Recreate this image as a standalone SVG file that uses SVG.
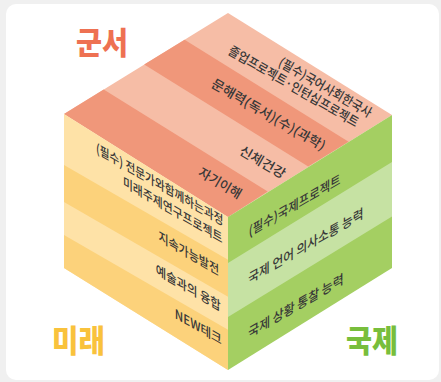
<svg xmlns="http://www.w3.org/2000/svg" width="441" height="382" viewBox="0 0 441 382">
<style>
.t{font-family:"Noto Sans CJK KR","Noto Sans",sans-serif;font-size:13px;font-weight:500;fill:#383838}
.r{font-size:13.5px}
.e{text-anchor:end}
.big{font-family:"Noto Sans CJK KR","Noto Sans",sans-serif;font-size:31px;font-weight:900}
</style>
<rect width="441" height="382" fill="#f0f0f0"/>
<rect x="6" y="4" width="433" height="376" rx="10" fill="#ffffff"/>

<g id="top-face">
  <polygon points="228,13 392,115 228,217 64,114" fill="#F6BDA6"/>
  <polygon points="184.6,39.7 348.6,141.7 308.2,166.6 144.2,64.6" fill="#F0977A"/>
  <polygon points="103.7,89.6 267.7,191.6 228,217 64,114" fill="#F0977A"/>
  <g transform="translate(228,13) rotate(30)">
    <text class="t e" x="174" y="20.5" textLength="105" lengthAdjust="spacingAndGlyphs">(필수)국어사회한국사</text>
    <text class="t e" x="167.5" y="35.5" textLength="148" lengthAdjust="spacingAndGlyphs">졸업프로젝트·인턴십프로젝트</text>
    <text class="t e" x="150.5" y="72.5" textLength="129" lengthAdjust="spacingAndGlyphs">문해력(독서)(수)(과학)</text>
    <text class="t e" x="130" y="116.5" textLength="51" lengthAdjust="spacingAndGlyphs">신체건강</text>
    <text class="t e" x="102" y="156" textLength="47.5" lengthAdjust="spacingAndGlyphs">자기이해</text>
  </g>
</g>

<g id="left-face">
  <polygon points="64,114 228,217 228,370 64,268" fill="#FEE2A7"/>
  <polygon points="64,165 228,259.7 228,296.7 64,202" fill="#FCD27B"/>
  <polygon points="64,235 228,329.7 228,370 64,268" fill="#FCD27B"/>
  <g transform="matrix(0.866,0.5,0,1,64,114)">
    <text class="t e" x="184" y="20" textLength="147" lengthAdjust="spacingAndGlyphs">(필수) 전문가와함께하는과정</text>
    <text class="t e" x="183" y="38" textLength="115" lengthAdjust="spacingAndGlyphs">미래주제연구프로젝트</text>
    <text class="t e" x="179" y="72" textLength="70" lengthAdjust="spacingAndGlyphs">지속가능발전</text>
    <text class="t e" x="181" y="106.8" textLength="75" lengthAdjust="spacingAndGlyphs">예술과의 융합</text>
    <text class="t e" x="182" y="140" textLength="54" lengthAdjust="spacingAndGlyphs">NEW테크</text>
  </g>
</g>

<g id="right-face">
  <polygon points="228,217 392,115 392,268 228,370" fill="#A4CF62"/>
  <polygon points="228,263 392,162 392,216.5 228,317" fill="#C6E2A3"/>
  <g transform="matrix(0.866,-0.5,0,1,228,217)">
    <text class="t r" x="24" y="31.7" textLength="106" lengthAdjust="spacingAndGlyphs">(필수)국제프로젝트</text>
    <text class="t r" x="23.5" y="78.8" textLength="133" lengthAdjust="spacingAndGlyphs">국제 언어 의사소통 능력</text>
    <text class="t r" x="23.5" y="133" textLength="110" lengthAdjust="spacingAndGlyphs">국제 상황 통찰 능력</text>
  </g>
</g>

<g id="labels">
  <text class="big" x="76" y="53.5" fill="#EE7152" textLength="52" lengthAdjust="spacingAndGlyphs">군서</text>
  <text class="big" x="52" y="351.5" fill="#F9C23C" textLength="53" lengthAdjust="spacingAndGlyphs">미래</text>
  <text class="big" x="346" y="351.5" fill="#78BE3C" textLength="52" lengthAdjust="spacingAndGlyphs">국제</text>
</g>
</svg>
